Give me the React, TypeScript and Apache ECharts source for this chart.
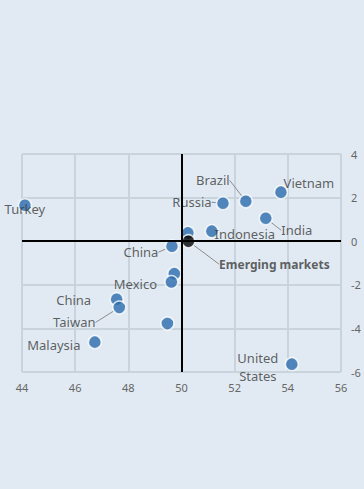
import React, { useEffect, useRef } from "react";
import * as echarts from "echarts";

const countries = ["Turkey", "Vietnam", "Brazil", "Russia", "India", "Indonesia", "Unlabeled 1", "China", "Unlabeled 2", "Mexico", "China", "Taiwan", "Unlabeled 3", "Malaysia", "United States"];
const labelTexts = ["Turkey", "Vietnam", "Brazil", "Russia", "India", "Indonesia", "", "China", "", "Mexico", "China", "Taiwan", "", "Malaysia", "United\nStates"];
const xValues = [44.11, 53.74, 52.42, 51.56, 53.17, 51.14, 50.24, 49.64, 49.73, 49.62, 47.56, 47.66, 49.47, 46.74, 54.15];
const yValues = [1.65, 2.25, 1.83, 1.74, 1.05, 0.46, 0.38, -0.23, -1.49, -1.87, -2.66, -3.04, -3.78, -4.63, -5.64];
const aggregateName = "Emerging markets";
const aggregateX = [50.26];
const aggregateY = [0];
const xTicks = { min: 44, max: 56, step: 2 };
const yTicks = { min: -6, max: 4, step: 2 };

// label offsets (style only), relative to point centre
const labelOffsets: Record<number, [number, number, boolean]> = {
  0: [0, 4, false],
  1: [28, -9, false],
  2: [-33, -21, true],
  3: [-31, -1, true],
  4: [31, 12, true],
  5: [33, 3, false],
  7: [-31, 6, true],
  9: [-36, 2, false],
  10: [-43, 1, false],
  11: [-45, 15, true],
  13: [-41, 3, false],
  14: [-34, 3, false],
};

const FONT = "'Noto Sans', sans-serif";

export default function App() {
  const ref = useRef<HTMLDivElement>(null);
  useEffect(() => {
    document.body.style.margin = "0";
    document.body.style.background = "#e1eaf2";
    const chart = echarts.init(ref.current!, null, { renderer: "svg" });
    const data = countries.map((name, i) => ({
      name,
      value: [xValues[i], yValues[i]],
      labelLine: { show: !!(labelOffsets[i] && labelOffsets[i][2]) },
    }));
    chart.setOption({
      animation: false,
      backgroundColor: "#e1eaf2",
      grid: { left: 22, right: 23, top: 154, bottom: 117 },
      xAxis: {
        type: "value",
        min: xTicks.min,
        max: xTicks.max,
        interval: xTicks.step,
        axisLine: { show: false },
        axisTick: { show: false },
        splitLine: { lineStyle: { color: "#c9d3dc", width: 2 } },
        axisLabel: { color: "#666", fontSize: 11, margin: 10, fontFamily: FONT },
      },
      yAxis: {
        type: "value",
        position: "right",
        min: yTicks.min,
        max: yTicks.max,
        interval: yTicks.step,
        axisLine: { show: false },
        axisTick: { show: false },
        splitLine: { lineStyle: { color: "#c9d3dc", width: 2 } },
        axisLabel: { color: "#666", fontSize: 11, margin: 10, fontFamily: FONT },
      },
      series: [
        {
          type: "scatter",
          data,
          symbolSize: 13,
          itemStyle: { color: "#2a6bab", borderColor: "#ffffff", borderWidth: 1.5 },
          label: {
            show: true,
            position: "inside",
            formatter: (p: any) => labelTexts[p.dataIndex],
            color: "#3a3a3a",
            fontSize: 13,
            lineHeight: 18,
            fontFamily: FONT,
          },
          labelLine: { show: false, lineStyle: { color: "#8c8c8c", width: 1 } },
          labelLayout: (p: any) => {
            const o = labelOffsets[p.dataIndex];
            return o ? { dx: o[0], dy: o[1] } : {};
          },
          markLine: {
            silent: true,
            symbol: "none",
            label: { show: false },
            lineStyle: { color: "#000", width: 2, type: "solid" },
            data: [{ xAxis: 50 }, { yAxis: 0 }],
          },
          z: 3,
        },
        {
          type: "scatter",
          data: aggregateX.map((x, i) => ({ name: aggregateName, value: [x, aggregateY[i]], labelLine: { show: true } })),
          symbolSize: 13,
          itemStyle: { color: "#000", borderColor: "#ffffff", borderWidth: 1.5 },
          label: {
            show: true,
            position: "inside",
            formatter: aggregateName,
            color: "#3a3a3a",
            fontSize: 12,
            fontWeight: "bold",
            fontFamily: FONT,
          },
          labelLine: { show: true, lineStyle: { color: "#8c8c8c", width: 1 } },
          labelLayout: { dx: 86, dy: 23 },
          z: 4,
        },
      ],
    });
    return () => chart.dispose();
  }, []);
  return <div ref={ref} style={{ width: 364, height: 489 }} />;
}
